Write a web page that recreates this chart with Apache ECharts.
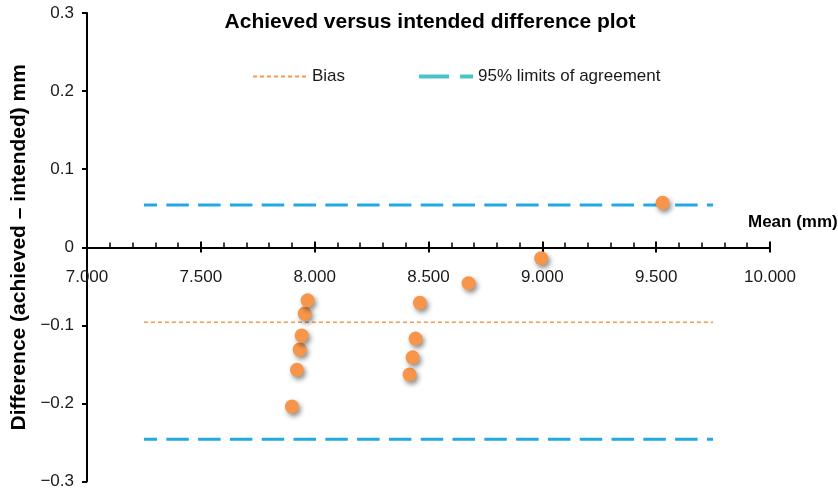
<!DOCTYPE html>
<html>
<head>
<meta charset="utf-8">
<script src="https://cdn.jsdelivr.net/npm/echarts@6/dist/echarts.min.js"></script>
<style>
  html, body { margin: 0; padding: 0; background: #fff; }
  #chart { width: 838px; height: 491px; }
</style>
</head>
<body>
<div id="chart"></div>
<script>
  // mean of achieved and intended (mm)
  var meanValues = [7.900, 7.922, 7.934, 7.943, 7.956, 7.969, 8.417, 8.430, 8.443, 8.462, 8.676, 8.995, 9.528]
  // difference achieved - intended (mm)
  var diffValues = [-0.204, -0.157, -0.131, -0.113, -0.085, -0.068, -0.163, -0.141, -0.117, -0.071, -0.046, -0.014, 0.057]
  var biasValue = -0.096
  var loaValues = [0.054, -0.246]
  var lineRange = [7.25, 9.75]

  var points = meanValues.map(function (m, i) { return [m, diffValues[i]] })
  var biasLine = lineRange.map(function (x) { return [x, biasValue] })
  var loaUpperLine = lineRange.map(function (x) { return [x, loaValues[0]] })
  var loaLowerLine = lineRange.map(function (x) { return [x, loaValues[1]] })

  var font = 'Liberation Sans, Arial, sans-serif'
  var noSymbol = { color: 'rgba(0,0,0,0)', borderColor: 'rgba(0,0,0,0)', borderWidth: 0 }
  // x axis sits on y = 0, which is 234px above the bottom of the grid
  var xOffset = -234

  var chart = echarts.init(document.getElementById('chart'))

  chart.setOption({
    animation: false,
    textStyle: { fontFamily: font },
    title: {
      text: 'Achieved versus intended difference plot',
      left: 425,
      textAlign: 'center',
      top: 7,
      textStyle: { fontFamily: font, fontSize: 21, fontWeight: 'bold', color: '#000' }
    },
    legend: {
      left: 247,
      top: 63,
      itemGap: 72,
      itemWidth: 54,
      itemHeight: 14,
      textStyle: { fontFamily: font, fontSize: 17, color: '#1a1a1a' },
      data: ['Bias', { name: '95% limits of agreement', lineStyle: { width: 4 } }]
    },
    grid: { left: 87, right: 68, top: 13, bottom: 9.5, outerBoundsMode: 'none' },
    xAxis: [{
      type: 'value',
      position: 'bottom',
      offset: xOffset,
      min: 7,
      max: 10,
      interval: 0.5,
      name: 'Mean (mm)',
      nameLocation: 'end',
      nameGap: -22,
      nameTextStyle: { fontFamily: font, fontSize: 17, fontWeight: 'bold', color: '#000',
        align: 'left', verticalAlign: 'bottom', lineHeight: 50 },
      axisLine: { onZero: false, lineStyle: { color: '#000', width: 2 } },
      axisTick: { inside: true, length: 6, lineStyle: { color: '#000', width: 2 } },
      minorTick: { show: true, splitNumber: 5, length: 5, lineStyle: { color: '#000', width: 1.5 } },
      axisLabel: { margin: 21, fontSize: 17, color: '#1a1a1a', fontFamily: font,
        formatter: function (v) { return v.toFixed(3) } },
      splitLine: { show: false }
    }, {
      // only the downward half of the major ticks
      type: 'value',
      position: 'bottom',
      offset: xOffset,
      min: 7,
      max: 10,
      interval: 0.5,
      axisLine: { show: false, onZero: false },
      axisTick: { length: 5, lineStyle: { color: '#000', width: 2 } },
      axisLabel: { show: false },
      splitLine: { show: false }
    }],
    yAxis: {
      type: 'value',
      min: -0.3,
      max: 0.3,
      interval: 0.1,
      name: 'Difference (achieved \u2013 intended) mm',
      nameLocation: 'middle',
      nameGap: 56,
      nameTextStyle: { fontFamily: font, fontSize: 21, fontWeight: 'bold', color: '#000' },
      axisLine: { show: true, lineStyle: { color: '#000', width: 2 } },
      axisTick: { show: true, length: 5, lineStyle: { color: '#000', width: 2 } },
      axisLabel: { margin: 13, fontSize: 17, color: '#1a1a1a', fontFamily: font,
        formatter: function (v) {
          var r = Math.round(v * 10) / 10
          if (r === 0) return '0'
          return r < 0 ? '\u2212' + Math.abs(r).toFixed(1) : r.toFixed(1)
        } },
      splitLine: { show: false }
    },
    series: [{
      name: 'Bias',
      type: 'line',
      data: biasLine,
      symbol: 'none',
      itemStyle: noSymbol,
      lineStyle: { color: '#f59a4c', width: 1.5, type: [4, 3] },
      z: 2
    }, {
      // legend entry only: its icon is drawn in a lighter teal in the original
      name: '95% limits of agreement',
      type: 'line',
      data: [],
      symbol: 'none',
      itemStyle: noSymbol,
      lineStyle: { color: '#4bc4c9', width: 4, type: [30, 11] }
    }, {
      name: 'LoA upper',
      type: 'line',
      data: loaUpperLine,
      symbol: 'none',
      lineStyle: { color: '#21a9e1', width: 3, type: [22.5, 9.3], dashOffset: 9.4 },
      z: 2
    }, {
      name: 'LoA lower',
      type: 'line',
      data: loaLowerLine,
      symbol: 'none',
      lineStyle: { color: '#21a9e1', width: 3, type: [22.5, 9.3], dashOffset: 9.4 },
      z: 2
    }, {
      name: 'Data',
      type: 'scatter',
      data: points,
      symbolSize: 14,
      itemStyle: { color: '#f7964a', opacity: 1, shadowColor: 'rgba(0,0,0,0.45)', shadowBlur: 5, shadowOffsetX: 2, shadowOffsetY: 3 },
      z: 5
    }]
  })
</script>
</body>
</html>
